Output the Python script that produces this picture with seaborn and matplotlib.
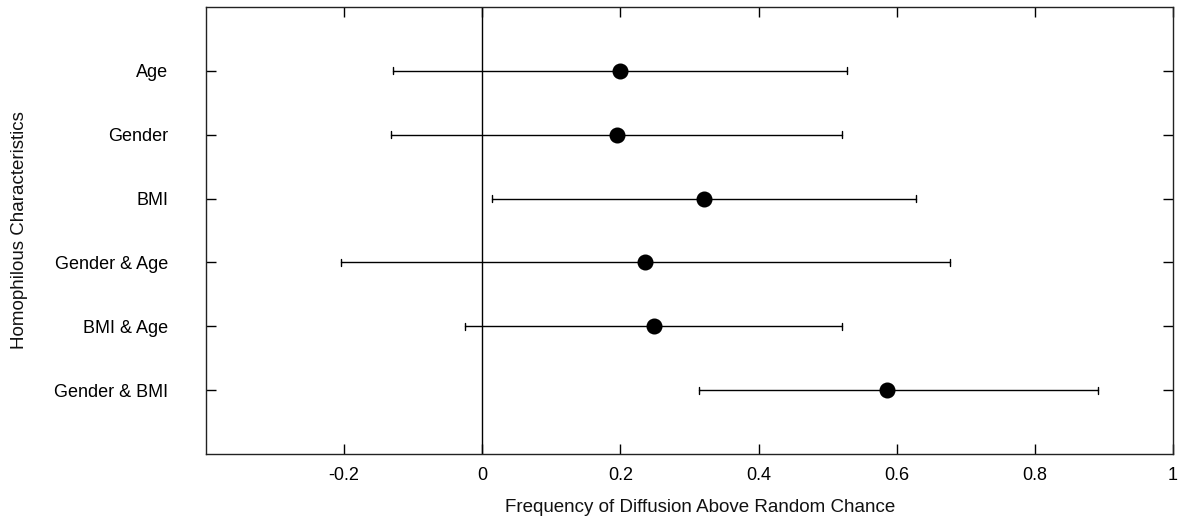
import matplotlib
matplotlib.use("Agg")
import matplotlib.pyplot as plt
import seaborn as sns
import pandas as pd
import numpy as np

# homophily characteristics and their estimate with interval
categories = ["Age", "Gender", "BMI", "Gender & Age", "BMI & Age", "Gender & BMI"]
estimate = [0.200, 0.195, 0.321, 0.236, 0.249, 0.586]
lower = [-0.129, -0.132, 0.014, -0.205, -0.025, 0.314]
upper = [0.528, 0.521, 0.628, 0.677, 0.521, 0.892]

xtick_vals = [-0.2, 0, 0.2, 0.4, 0.6, 0.8, 1.0]
xtick_labels = ["-0.2", "0", "0.2", "0.4", "0.6", "0.8", "1"]

# long table: lower / estimate / upper per category, median -> estimate, min/max -> interval
rows = []
for c, lo, m, hi in zip(categories, lower, estimate, upper):
    for v in (lo, m, hi):
        rows.append({"cat": c, "val": v})
df = pd.DataFrame(rows)

sns.set_theme(style="ticks")
plt.rcParams["font.family"] = ["Liberation Sans", "DejaVu Sans"]

fig = plt.figure(figsize=(11.82, 5.21), dpi=100)
ax = fig.add_axes([206 / 1182, 1 - 454 / 521, (1173 - 206) / 1182, (454 - 7) / 521])

ax.axvline(0, color="black", lw=1.0, zorder=0)

sns.pointplot(data=df, x="val", y="cat", order=categories, orient="h",
              estimator=np.median, errorbar=lambda v: (v.min(), v.max()),
              linestyle="none", markers="o", color="black", markersize=9.5,
              capsize=0.11, err_kws={"linewidth": 1.0}, ax=ax)

ax.set_xlim(-0.4, 1.0)
ax.set_ylim(len(categories), -1)
ax.set_xticks(xtick_vals)
ax.set_xticklabels(xtick_labels)
ax.tick_params(axis="both", direction="in", length=7, width=1, top=True, right=True,
               labelsize=13, colors="black")
ax.tick_params(axis="y", pad=27)
ax.tick_params(axis="x", pad=9)
for s in ax.spines.values():
    s.set_linewidth(1.0)
    s.set_color("#222222")

ax.set_xlabel("Frequency of Diffusion Above Random Chance", fontsize=13.5, color="#111111")
ax.set_ylabel("Homophilous Characteristics", fontsize=13.5, color="#111111")
ax.xaxis.set_label_coords(0.511, -0.101)
ax.yaxis.set_label_coords(-0.184, 0.5)

fig.savefig("out.png", dpi=100)
